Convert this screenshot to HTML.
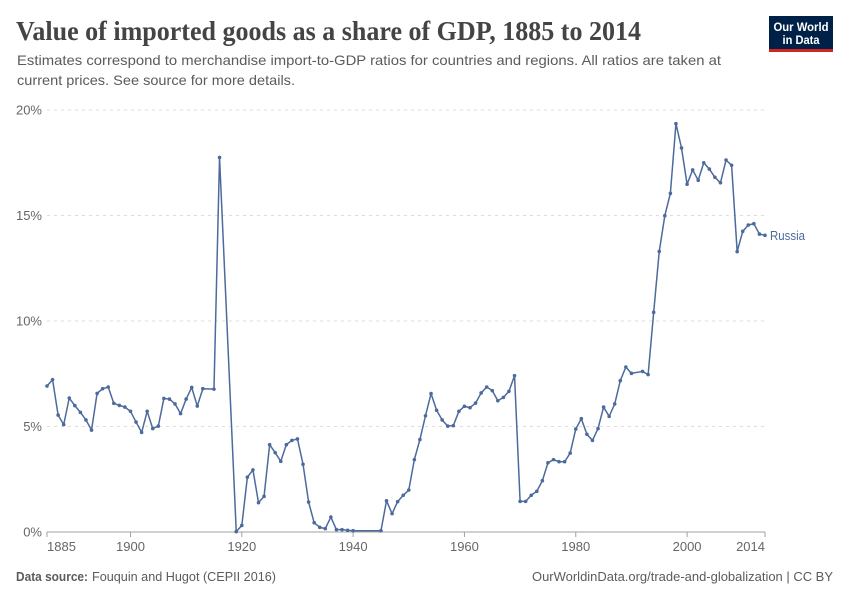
<!DOCTYPE html>
<html lang="en">
<head>
<meta charset="utf-8">
<title>Value of imported goods as a share of GDP, 1885 to 2014</title>
<style>
  html, body { margin: 0; padding: 0; background: #fff; }
  svg { display: block; font-family: "Liberation Sans", sans-serif; }
</style>
</head>
<body>
<svg id="chart" xmlns="http://www.w3.org/2000/svg" width="850" height="600" viewBox="0 0 850 600">
  <text x="16" y="40" font-family="'Liberation Serif', serif" font-weight="700" font-size="27" fill="#444444" textLength="625" lengthAdjust="spacingAndGlyphs">Value of imported goods as a share of GDP, 1885 to 2014</text>
  <text x="17" y="65" font-size="14" fill="#5b5b5b" textLength="704" lengthAdjust="spacingAndGlyphs">Estimates correspond to merchandise import-to-GDP ratios for countries and regions. All ratios are taken at</text>
  <text x="17" y="85" font-size="14" fill="#5b5b5b" textLength="278" lengthAdjust="spacingAndGlyphs">current prices. See source for more details.</text>

  <g>
    <rect x="769" y="16" width="64" height="36" fill="#002147"/>
    <rect x="769" y="49" width="64" height="3" fill="#ce261e"/>
    <text x="773.5" y="31" font-size="12" font-weight="700" fill="#fff" textLength="55" lengthAdjust="spacingAndGlyphs">Our World</text>
    <text x="782.5" y="44" font-size="12" font-weight="700" fill="#fff" textLength="37" lengthAdjust="spacingAndGlyphs">in Data</text>
  </g>

  <g id="grid"></g>
  <g id="y-axis"></g>
  <g id="x-axis"></g>
  <g id="series"></g>

  <text x="16" y="581" font-size="13" font-weight="700" fill="#5b5b5b" textLength="72" lengthAdjust="spacingAndGlyphs">Data source:</text>
  <text x="92" y="581" font-size="13" fill="#5b5b5b" textLength="184" lengthAdjust="spacingAndGlyphs">Fouquin and Hugot (CEPII 2016)</text>
  <text x="532" y="581" font-size="13" fill="#5b5b5b" textLength="301" lengthAdjust="spacingAndGlyphs">OurWorldinData.org/trade-and-globalization | CC BY</text>
</svg>
<script>
const years = [1885,1886,1887,1888,1889,1890,1891,1892,1893,1894,1895,1896,1897,1898,1899,
  1900,1901,1902,1903,1904,1905,1906,1907,1908,1909,1910,1911,1912,1913,1915,1916,1919,
  1920,1921,1922,1923,1924,1925,1926,1927,1928,1929,1930,1931,1932,1933,1934,1935,1936,1937,1938,1939,
  1940,1945,1946,1947,1948,1949,1950,1951,1952,1953,1954,1955,1956,1957,1958,1959,
  1960,1961,1962,1963,1964,1965,1966,1967,1968,1969,1970,1971,1972,1973,1974,1975,1976,1977,1978,1979,
  1980,1981,1982,1983,1984,1985,1986,1987,1988,1989,1990,1992,1993,1994,1995,1996,1997,1998,1999,
  2000,2001,2002,2003,2004,2005,2006,2007,2008,2009,2010,2011,2012,2013,2014];
const importShare = [6.92,7.22,5.54,5.09,6.35,5.99,5.67,5.31,4.83,6.57,6.79,6.87,6.10,6.00,5.92,
  5.72,5.21,4.72,5.72,4.90,5.02,6.33,6.30,6.07,5.61,6.30,6.85,5.97,6.79,6.77,17.75,0.02,
  0.31,2.60,2.94,1.39,1.69,4.14,3.76,3.35,4.14,4.34,4.41,3.21,1.42,0.44,0.22,0.16,0.71,0.11,0.11,0.08,
  0.06,0.06,1.48,0.87,1.44,1.74,1.99,3.43,4.38,5.51,6.56,5.77,5.31,5.02,5.04,5.72,
  5.96,5.89,6.11,6.59,6.87,6.70,6.22,6.38,6.67,7.41,1.45,1.45,1.74,1.93,2.43,3.28,3.43,3.33,3.33,3.74,
  4.88,5.37,4.63,4.34,4.90,5.92,5.48,6.07,7.17,7.82,7.52,7.61,7.46,10.41,13.30,14.99,16.05,19.35,18.20,
  16.48,17.16,16.67,17.50,17.20,16.81,16.55,17.63,17.38,13.29,14.25,14.55,14.61,14.12,14.06];
const xTickYears = [1885,1900,1920,1940,1960,1980,2000,2014];
const yTickValues = [0,5,10,15,20];
const seriesName = "Russia";

const NS = "http://www.w3.org/2000/svg";
const LEFT = 47, RIGHT = 765, BOTTOM = 532, TOP = 110;
const MIN_YEAR = 1885, MAX_YEAR = 2014, MAX_VALUE = 20;
const LINE_COLOR = "#4c6a9c";

function xScale(year) {
  return LEFT + (year - MIN_YEAR) / (MAX_YEAR - MIN_YEAR) * (RIGHT - LEFT);
}
function yScale(value) {
  return BOTTOM - value / MAX_VALUE * (BOTTOM - TOP);
}
function make(tag, attrs, parent, content) {
  const el = document.createElementNS(NS, tag);
  for (const key in attrs) el.setAttribute(key, attrs[key]);
  if (content !== undefined) el.textContent = content;
  parent.appendChild(el);
  return el;
}

const gridGroup = document.getElementById("grid");
const yAxisGroup = document.getElementById("y-axis");
const xAxisGroup = document.getElementById("x-axis");
const seriesGroup = document.getElementById("series");

yTickValues.forEach(function (value) {
  const y = yScale(value);
  if (value !== 0) {
    const grid = make("line", { x1: LEFT, x2: RIGHT, y1: y, y2: y, stroke: "#dddddd", "stroke-dasharray": "3,4" }, gridGroup);
    
    
  }
  const label = make("text", { x: 42, y: y + 4.5, "text-anchor": "end", "font-size": 13, fill: "#666666" }, yAxisGroup, value + "%");
  
  
});

const axisLine = make("line", { x1: LEFT, x2: RIGHT, y1: BOTTOM, y2: BOTTOM, stroke: "#a1a1a1", "stroke-width": 1 }, xAxisGroup);



xTickYears.forEach(function (year, i) {
  const x = xScale(year);
  const tick = make("line", { x1: x, x2: x, y1: BOTTOM, y2: BOTTOM + 5, stroke: "#a1a1a1", "stroke-width": 1 }, xAxisGroup);
  
  
  let anchor = "middle";
  if (i === 0) anchor = "start";
  if (i === xTickYears.length - 1) anchor = "end";
  const label = make("text", { x: x, y: 551, "text-anchor": anchor, "font-size": 13, fill: "#666666" }, xAxisGroup, String(year));
  
  
});

const linePoints = years.map(function (year, i) {
  return xScale(year).toFixed(2) + "," + yScale(importShare[i]).toFixed(2);
}).join(" ");
const seriesLine = make("polyline", { points: linePoints, fill: "none", stroke: LINE_COLOR, "stroke-width": 1.5, "stroke-linejoin": "round" }, seriesGroup);



years.forEach(function (year, i) {
  const dot = make("circle", { cx: xScale(year), cy: yScale(importShare[i]), r: 1.8, fill: LINE_COLOR }, seriesGroup);
  
  
});

const lastIndex = years.length - 1;
const seriesLabel = make("text", { x: xScale(years[lastIndex]) + 5, y: yScale(importShare[lastIndex]) + 4.5, "font-size": 13, fill: LINE_COLOR, textLength: 35, lengthAdjust: "spacingAndGlyphs" }, seriesGroup, seriesName);


</script>
</body>
</html>
